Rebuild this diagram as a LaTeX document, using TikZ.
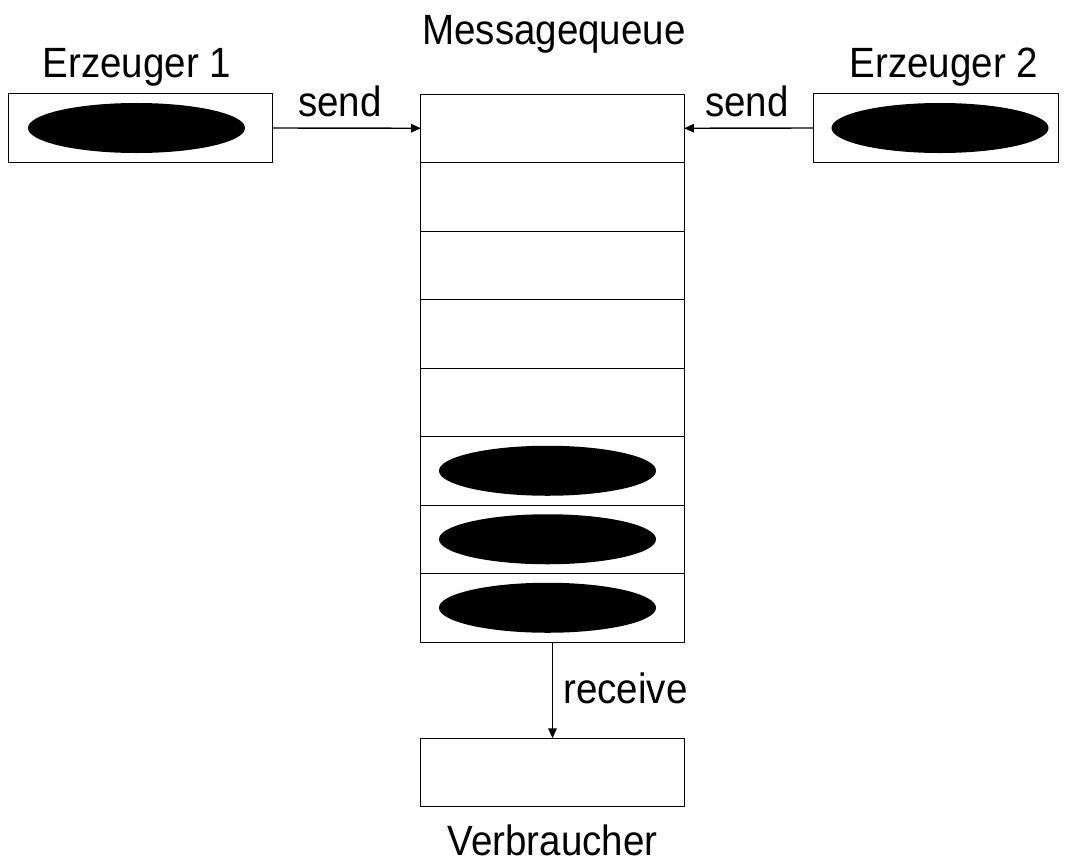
\documentclass[tikz,border=0pt]{standalone}
\usepackage{fontspec}
\setmainfont{Liberation Sans}[FakeStretch=0.91]
\usepackage{tikz}
\usetikzlibrary{shapes.geometric, arrows.meta, positioning}

\begin{document}
\begin{tikzpicture}[x=0.025cm, y=-0.025cm,
    every node/.style={font=\fontsize{30.1}{35}\selectfont},
    cell/.style={draw, line width=0.7pt, rectangle, inner sep=0pt, outer sep=0pt,
        minimum width=6.575cm, minimum height=1.7125cm},
    msg/.style={ellipse, fill=black, inner sep=0pt,
        minimum width=5.425cm, minimum height=1.25cm},
    flow/.style={line width=1pt, -{Triangle[length=7pt, width=6pt]}}]
    \useasboundingbox (0, 0) rectangle (1065, 862);

    % Erzeuger
    \node[cell] (erz1) at (140.5, 128) {};
    \node[cell, minimum width=6.1cm] (erz2) at (936, 128) {};
    \node[msg] (m1) at (136.5, 128) {};
    \node[msg] (m2) at (940, 128) {};
    \node[anchor=base] (lerz1) at (137, 77) {Erzeuger 1};
    \node[anchor=base] (lerz2) at (944, 77) {Erzeuger 2};

    % Messagequeue with eight slots
    \foreach \i in {1,...,8}
        \node[cell] (q\i) at (552.5, {128.25+(\i-1)*68.5}) {};
    \foreach \i in {6,7,8}
        \node[msg] (qm\i) at ([xshift=-0.125cm]q\i.center) {};
    \node[anchor=base] (lqueue) at (554, 44) {Messagequeue};

    % Verbraucher
    \node[cell] (verb) at (552.5, 772.5) {};
    \node[anchor=base] (lverb) at (552.5, 855) {Verbraucher};

    % send / receive
    \draw[flow] (erz1.east) -- (q1.west);
    \draw[flow] (erz2.west) -- (q1.east);
    \draw[flow] (q8.south) -- (verb.north);
    \node[anchor=base] (send1) at (340, 116) {send};
    \node[anchor=base] (send2) at (747, 116) {send};
    \node[anchor=base west, inner sep=0pt] (recv) at (563, 703) {receive};
\end{tikzpicture}
\end{document}
